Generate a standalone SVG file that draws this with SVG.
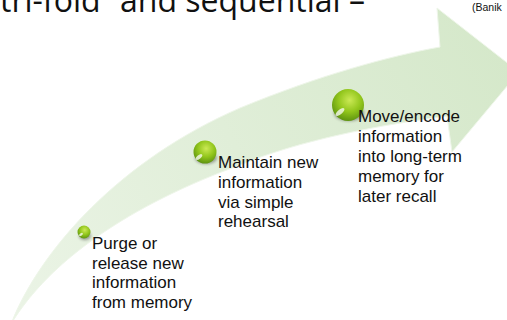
<svg xmlns="http://www.w3.org/2000/svg" width="507" height="320" viewBox="0 0 507 320">
<defs>
<style>
.lbl{font-family:"Liberation Sans",Arial,sans-serif;font-size:17px;fill:#111}
.title{font-family:"Open Sans","Liberation Sans",sans-serif;font-size:32px;fill:#111}
.cite{font-family:"Liberation Sans",Arial,sans-serif;font-size:10.5px;fill:#111}
.ball{fill:url(#ballGrad)}
.shine{fill:#ffffff;opacity:0.75}
.shadow{fill:#000;opacity:0.35;filter:url(#blur)}
</style>
<linearGradient id="arrowGrad" gradientUnits="userSpaceOnUse" x1="11" y1="324" x2="507" y2="60">
<stop offset="0" stop-color="#ebf4e6"/>
<stop offset="1" stop-color="#d5e8ca"/>
</linearGradient>
<radialGradient id="ballGrad" cx="0.55" cy="0.35" r="0.65">
<stop offset="0" stop-color="#cbe955"/>
<stop offset="0.55" stop-color="#92c61c"/>
<stop offset="1" stop-color="#5f9510"/>
</radialGradient>
<filter id="blur" x="-50%" y="-50%" width="200%" height="200%">
<feGaussianBlur stdDeviation="1.5"/>
</filter>
</defs>
<rect width="507" height="320" fill="#ffffff"/>
<g id="title">
<text class="title" x="0" y="12">tri-fold” and sequential –</text>
</g>
<g id="citation">
<text class="cite" x="472" y="10.5">(Banik</text>
</g>
<g id="connectors">
<path id="arrow" d="M 11 324 C 40 250, 120 160, 240 108 C 320 75, 390 56, 440 47 L 437 8 L 519 72 L 452 152 L 447 116 C 380 125, 300 140, 240 165 C 130 205, 50 260, 11 324 Z" fill="url(#arrowGrad)" stroke="#eef6e9" stroke-width="1"/>
</g>
<g id="node-purge">
<ellipse class="shadow" cx="85" cy="236" rx="6" ry="4"/>
<circle class="ball" cx="84" cy="232" r="6.5"/>
<ellipse class="shine" cx="81" cy="234.5" rx="2.2" ry="1.2" transform="rotate(-35 81 234.5)"/>
<text class="lbl"><tspan x="92" y="249">Purge or</tspan><tspan x="92" y="268.5">release new</tspan><tspan x="92" y="288">information</tspan><tspan x="92" y="307.5">from memory</tspan></text>
</g>
<g id="node-maintain">
<ellipse class="shadow" cx="206" cy="158" rx="11" ry="6"/>
<circle class="ball" cx="205" cy="152" r="11.5"/>
<ellipse class="shine" cx="199" cy="157" rx="4" ry="1.8" transform="rotate(-40 199 157)"/>
<text class="lbl"><tspan x="218" y="168">Maintain new</tspan><tspan x="218" y="188">information</tspan><tspan x="218" y="207.5">via simple</tspan><tspan x="218" y="227">rehearsal</tspan></text>
</g>
<g id="node-move">
<ellipse class="shadow" cx="349" cy="113" rx="15" ry="8"/>
<circle class="ball" cx="348" cy="105" r="16"/>
<ellipse class="shine" cx="340" cy="112" rx="5.5" ry="2.3" transform="rotate(-40 340 112)"/>
<text class="lbl"><tspan x="358" y="121.5">Move/encode</tspan><tspan x="358" y="141.5">information</tspan><tspan x="358" y="161.5">into long-term</tspan><tspan x="358" y="181.5">memory for</tspan><tspan x="358" y="201.5">later recall</tspan></text>
</g>
</svg>
